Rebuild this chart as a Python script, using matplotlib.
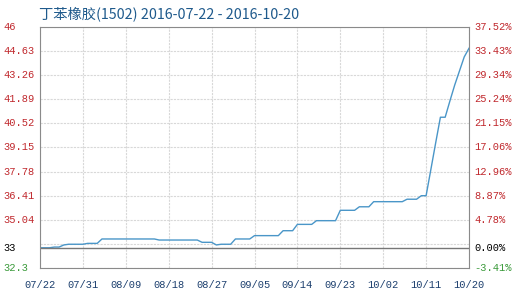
import numpy as np
import pandas as pd
import matplotlib
matplotlib.use("Agg")
import matplotlib.pyplot as plt
import matplotlib.dates as mdates

plt.rcParams['font.family'] = ['Liberation Mono', 'Noto Sans CJK SC']

# daily prices 2016-07-22 .. 2016-10-20
prices = [33.45, 33.45, 33.45, 33.49, 33.49, 33.61, 33.65, 33.65, 33.65, 33.65,
          33.70, 33.70, 33.70, 33.95, 33.95, 33.95, 33.95, 33.95, 33.95, 33.95,
          33.95, 33.95, 33.95, 33.95, 33.95, 33.89, 33.89, 33.89, 33.89, 33.89,
          33.89, 33.89, 33.89, 33.89, 33.76, 33.76, 33.76, 33.61, 33.65, 33.65,
          33.65, 33.95, 33.95, 33.95, 33.95, 34.14, 34.14, 34.14, 34.14, 34.14,
          34.14, 34.42, 34.42, 34.42, 34.78, 34.78, 34.78, 34.78, 34.99, 34.99,
          34.99, 34.99, 34.99, 35.58, 35.58, 35.58, 35.58, 35.78, 35.78, 35.78,
          36.07, 36.07, 36.07, 36.07, 36.07, 36.07, 36.07, 36.21, 36.21, 36.21,
          36.41, 36.41, 37.90, 39.40, 40.87, 40.87, 41.80, 42.70, 43.50, 44.30,
          44.79]
dates = pd.date_range("2016-07-22", "2016-10-20", freq="D")

base = 33.44
y_ticks = [46, 44.63, 43.26, 41.89, 40.52, 39.15, 37.78, 36.41, 35.04, 33.67, 32.3]
left_labels = ["46", "44.63", "43.26", "41.89", "40.52", "39.15", "37.78",
               "36.41", "35.04", "", "32.3"]
pct_labels = ["37.52%", "33.43%", "29.34%", "25.24%", "21.15%", "17.06%",
              "12.96%", "8.87%", "4.78%", "", "-3.41%"]
x_ticks = pd.date_range("2016-07-22", "2016-10-20", freq="9D")

red = "#c0282d"
green = "#3a9a3a"

fig = plt.figure(figsize=(5.14, 2.98), dpi=100)
ax = fig.add_axes([40 / 514, 30 / 298, 429 / 514, 241 / 298])

ax.plot(dates, prices, color="#4a96c8", lw=1.0)
ax.axhline(base, color="#777777", lw=1.0)

ax.set_xlim(dates[0], dates[-1])
ax.set_ylim(32.3, 46)
ax.set_yticks(y_ticks)
ax.set_yticklabels([])
ax.set_xticks(x_ticks)
ax.xaxis.set_major_formatter(mdates.DateFormatter("%m/%d"))
ax.tick_params(length=0, labelsize=7.5, labelcolor="#1c3f6e")
ax.tick_params(axis="x", pad=9)
ax.grid(True, color="#d8d8d8", lw=0.8, ls=(0, (2, 1)))
for s in ax.spines.values():
    s.set_color("#8a8a8a")

trans = ax.get_yaxis_transform()
lx = 3 / 514
rx = 474 / 514
for v, l, p in zip(y_ticks, left_labels, pct_labels):
    c = green if v == 32.3 else red
    yd = ax.transData.transform((0, v))[1]
    yf = fig.transFigure.inverted().transform((0, yd))[1]
    if l:
        fig.text(lx, yf, l, ha="left", va="center", fontsize=7.5, color=c)
    if p:
        fig.text(rx, yf, p, ha="left", va="center", fontsize=7.5, color=c)
yd = ax.transData.transform((0, base))[1]
yf = fig.transFigure.inverted().transform((0, yd))[1]
fig.text(lx, yf, "33", ha="left", va="center", fontsize=7.5, color="black")
fig.text(rx, yf, "0.00%", ha="left", va="center", fontsize=7.5, color="black")

fig.text(39 / 514, 1 - 14 / 298, "丁苯橡胶(1502) 2016-07-22 - 2016-10-20",
         fontsize=10.3, color="#1f5a8c", va="center", ha="left",
         family=['Noto Sans CJK SC', 'DejaVu Sans'])

fig.savefig("out.png", dpi=100)
